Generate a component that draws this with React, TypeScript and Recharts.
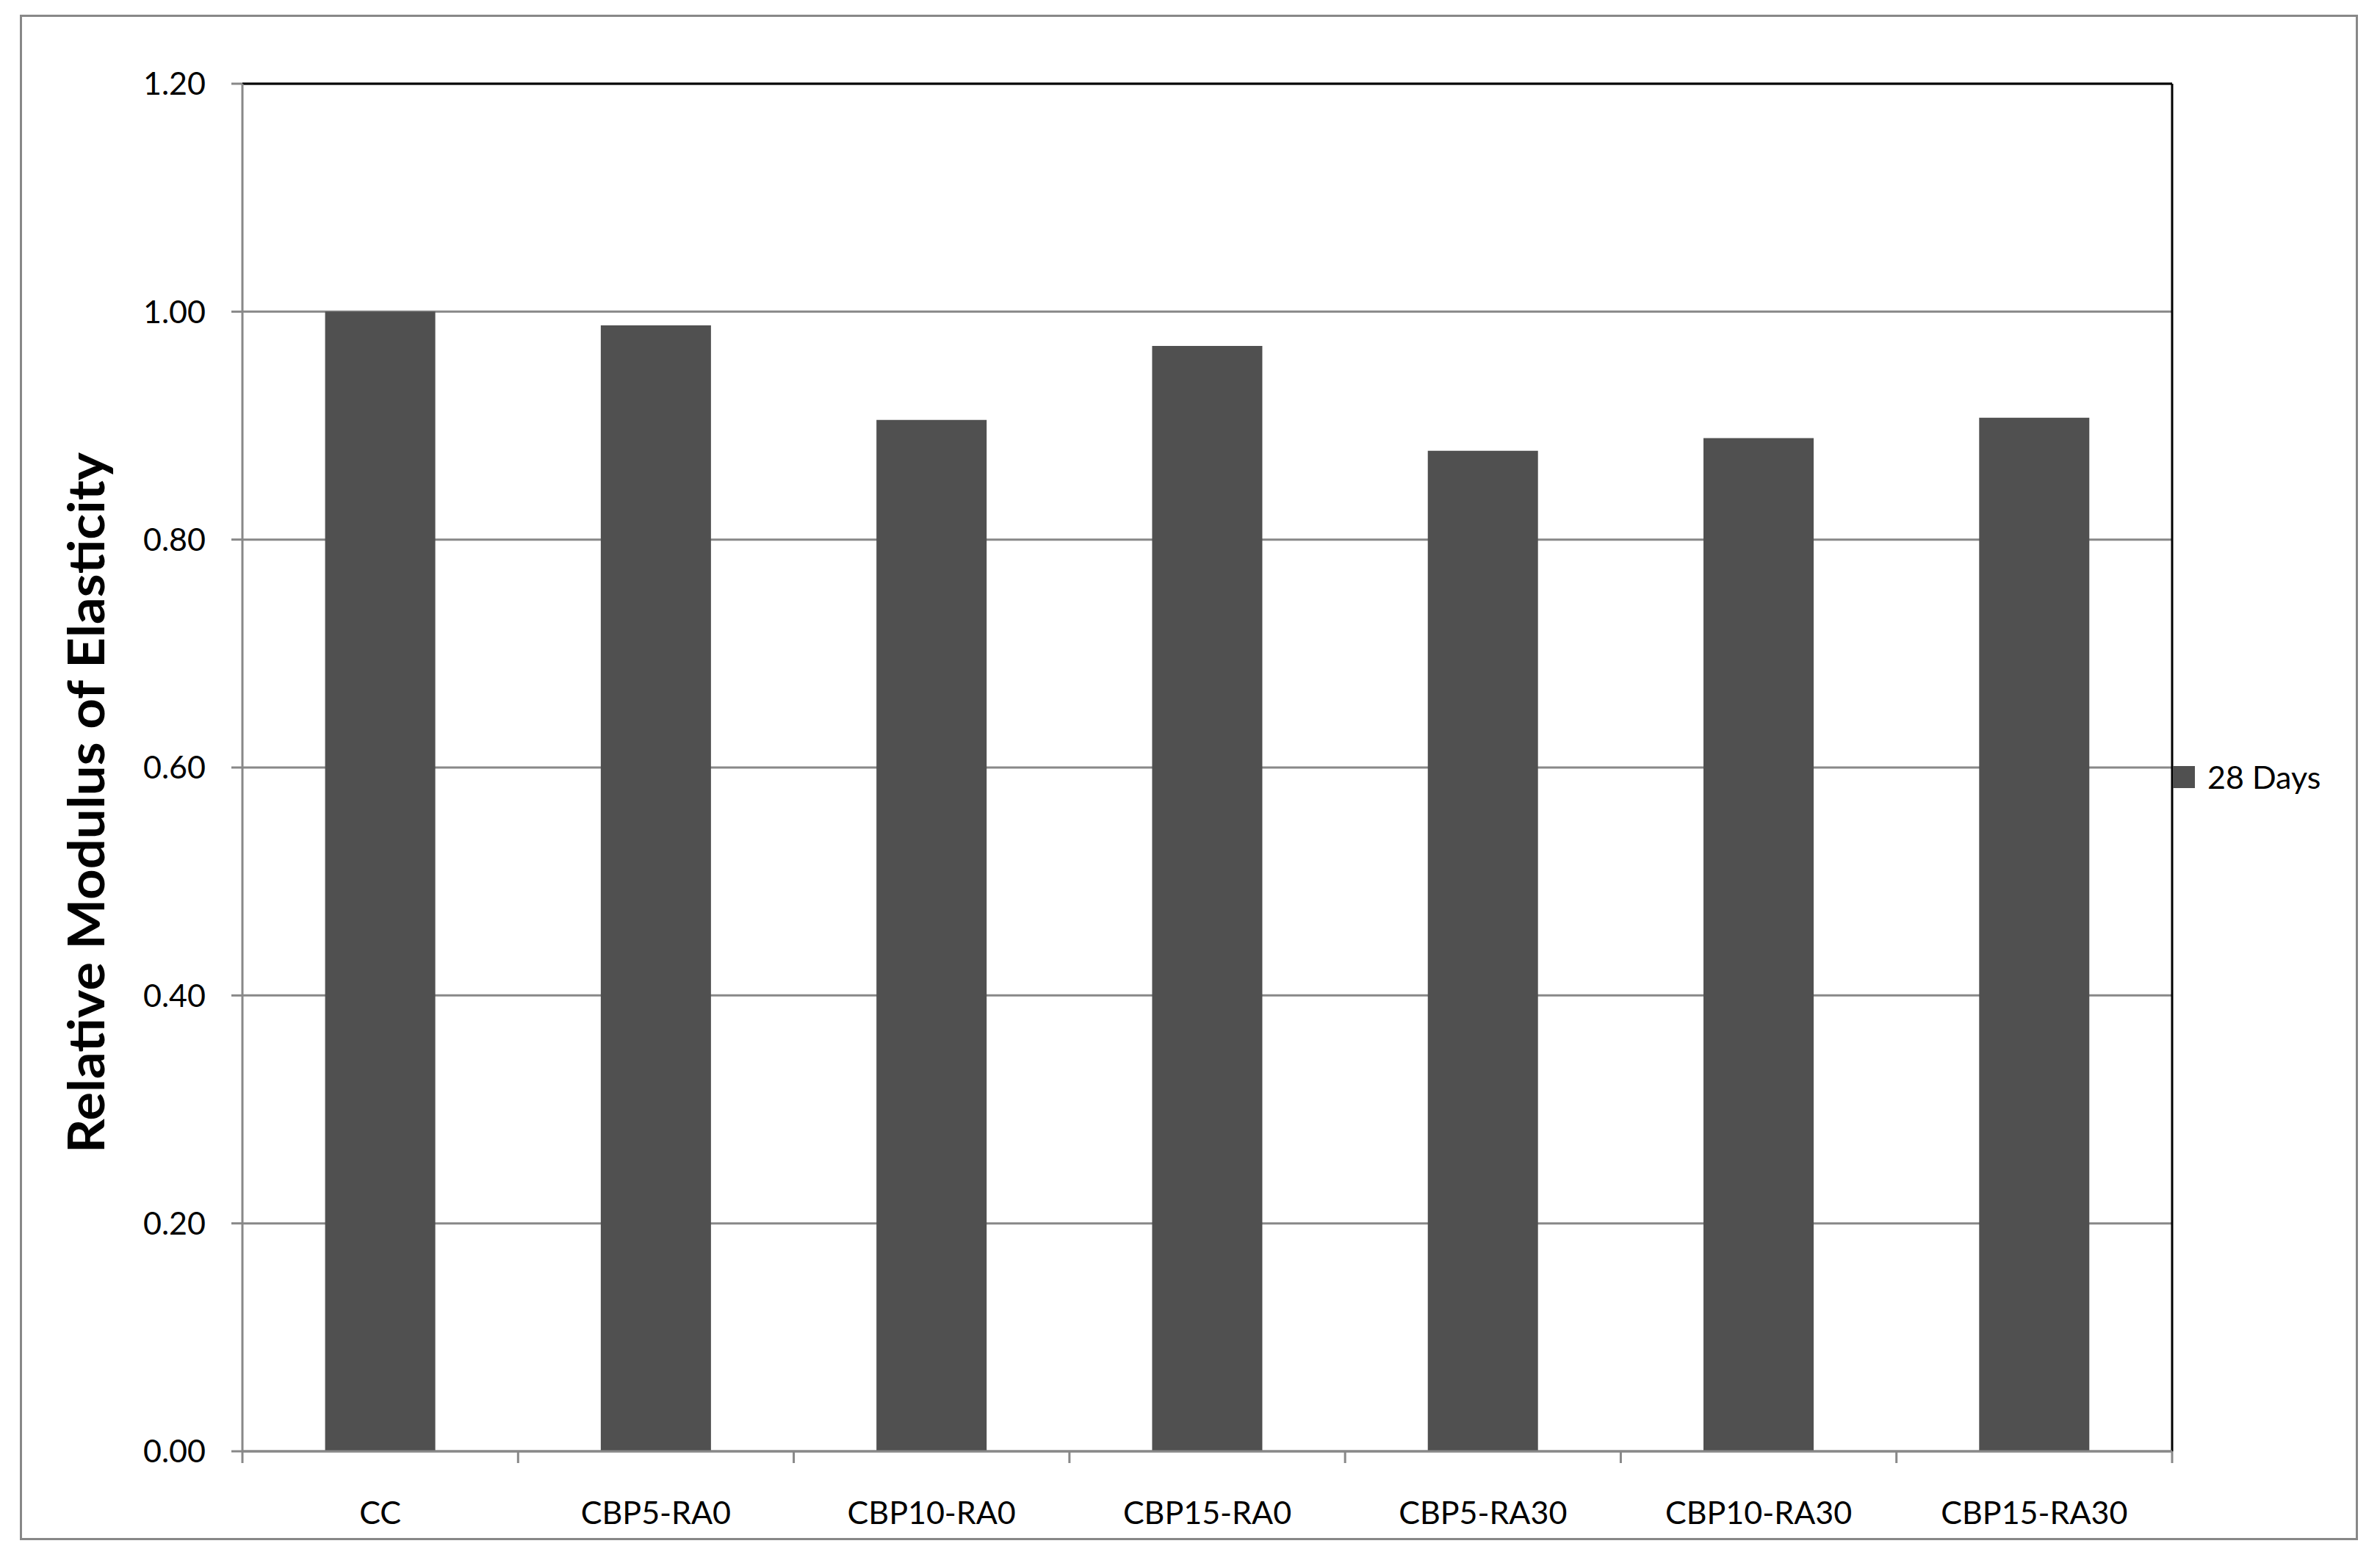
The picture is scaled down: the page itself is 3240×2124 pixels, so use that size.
import { Bar, BarChart, CartesianGrid, Label, Legend, ReferenceLine, XAxis, YAxis } from 'recharts';

const categories = ['CC', 'CBP5-RA0', 'CBP10-RA0', 'CBP15-RA0', 'CBP5-RA30', 'CBP10-RA30', 'CBP15-RA30'];
const days28 = [1.0, 0.988, 0.905, 0.97, 0.878, 0.889, 0.907];
const yTicks = [0, 0.2, 0.4, 0.6, 0.8, 1.0, 1.2];

const seriesName = '28 Days';
const yTitle = 'Relative Modulus of Elasticity';

const W = 3240;
const H = 2124;
const plotLeft = 330;
const plotRight = 2957;
const band = (plotRight - plotLeft) / categories.length;
const font = 'Lato, "Open Sans", sans-serif';
const grey = '#888888';
const barColor = '#505050';

const data = categories.map((name, i) => ({ name, days28: days28[i] }));

const XTick = (props: any) => {
  const { x, y, payload, index } = props;
  const left = x - band / 2;
  const right = x + band / 2;
  return (
    <g>
      <line x1={left} x2={left} y1={y} y2={y + 16} stroke={grey} strokeWidth={3} />
      {index === categories.length - 1 && (
        <line x1={right} x2={right} y1={y} y2={y + 16} stroke={grey} strokeWidth={3} />
      )}
      <text x={x} y={y + 84} dy="0.36em" textAnchor="middle" fontFamily={font} fontSize={43} fill="#000">
        {payload.value}
      </text>
    </g>
  );
};

const TitleLabel = () => {
  const cx = 142;
  const cy = 1093;
  return (
    <text
      x={cx}
      y={cy}
      transform={`rotate(-90 ${cx} ${cy})`}
      textAnchor="middle"
      fontFamily={font}
      fontWeight="bold"
      fontSize={68}
      textLength={954}
      lengthAdjust="spacingAndGlyphs"
      fill="#000"
    >
      {yTitle}
    </text>
  );
};

const LegendBox = (props: any) => {
  const items = props.payload || [];
  return (
    <div>
      {items.map((it: any) => (
        <div key={it.value} style={{ display: 'flex', alignItems: 'center', fontFamily: font, fontSize: 43, color: '#000' }}>
          <span style={{ display: 'inline-block', width: 30, height: 30, background: barColor, marginRight: 17 }} />
          <span style={{ lineHeight: '30px' }}>{it.value}</span>
        </div>
      ))}
    </div>
  );
};

export default function App() {
  return (
    <div style={{ position: 'absolute', left: 0, top: 0, width: W, height: H, background: '#fff' }}>
      <div
        style={{
          position: 'absolute',
          left: 27,
          top: 20,
          width: 3183,
          height: 2077,
          border: `3px solid ${grey}`,
          boxSizing: 'border-box',
        }}
      />
      <div style={{ position: 'absolute', left: 0, top: 0 }}>
        <BarChart
          width={W}
          height={H}
          data={data}
          margin={{ top: 114, right: W - plotRight, bottom: 28, left: 0 }}
          barCategoryGap="30%"
        >
          <CartesianGrid vertical={false} stroke={grey} strokeWidth={3} />
          {/* black right edge of the plot area */}
          <CartesianGrid horizontal={false} verticalPoints={[plotRight]} stroke="#000" strokeWidth={3} />
          <XAxis
            dataKey="name"
            height={120}
            tickLine={false}
            tickSize={0}
            tickMargin={0}
            axisLine={{ stroke: grey, strokeWidth: 3 }}
            tick={<XTick />}
            interval={0}
          />
          <YAxis
            width={plotLeft}
            domain={[0, 1.2]}
            ticks={yTicks}
            interval={0}
            tickFormatter={(v: number) => v.toFixed(2)}
            tickSize={15}
            tickMargin={35}
            tickLine={{ stroke: grey, strokeWidth: 3 }}
            axisLine={{ stroke: grey, strokeWidth: 3 }}
            tick={{ fontFamily: font, fontSize: 43, fill: '#000' }}
          >
            <Label content={<TitleLabel />} />
          </YAxis>
          <ReferenceLine y={1.2} stroke="#000" strokeWidth={3} />
          <Legend
            layout="horizontal"
            verticalAlign="middle"
            align="center"
            content={<LegendBox />}
            wrapperStyle={{ position: 'absolute', left: 2958, top: 1043, width: 260, height: 30 }}
          />
          <Bar dataKey="days28" name={seriesName} fill={barColor} isAnimationActive={false} />
        </BarChart>
      </div>
    </div>
  );
}
